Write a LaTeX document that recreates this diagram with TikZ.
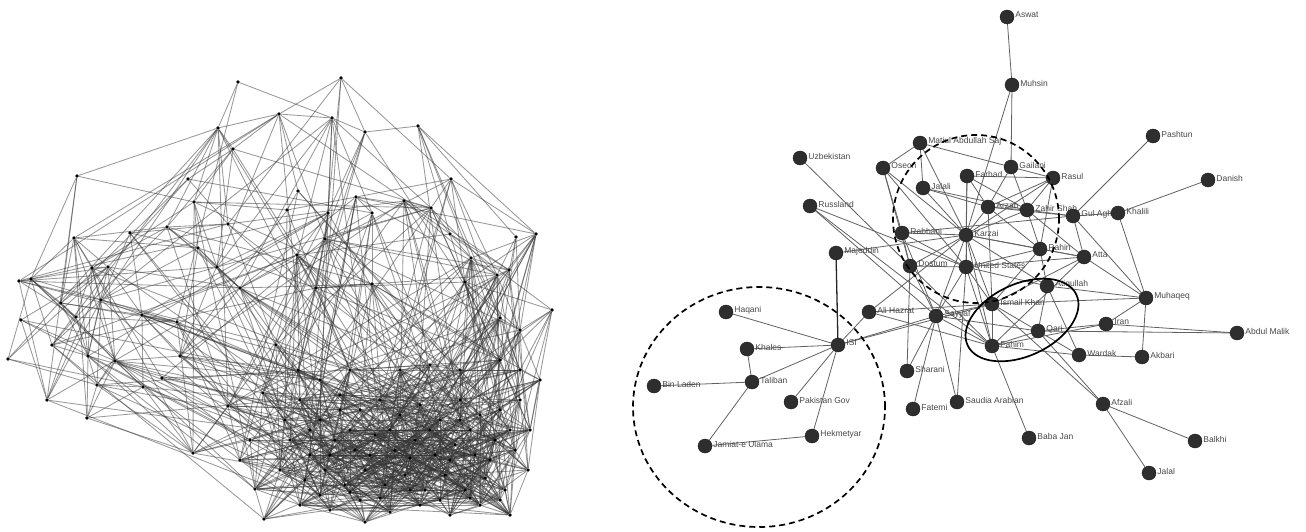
\documentclass[tikz,border=0pt]{standalone}
\usepackage{fontspec}
\setmainfont{Liberation Sans}
\pgfdeclarelayer{bg}
\pgfsetlayers{bg,main}
\tikzset{
  ldot/.style={circle,fill=black,inner sep=0pt,minimum size=3.8pt},
  ledge/.style={draw=black!80,draw opacity=0.5,line width=0.85pt},
  rdot/.style={circle,fill=black!82,draw=black!90,line width=0.4pt,inner sep=0pt,minimum size=14pt},
  redge/.style={draw=black!62,line width=0.8pt},
  lbl/.style={font=\fontsize{8.5}{9}\selectfont,text=black!72,inner sep=1pt,yshift=2pt},
  ringd/.style={draw=black,line width=1.7pt,dash pattern=on 6pt off 4pt},
  rings/.style={draw=black,line width=1.7pt}
}
\begin{document}
\begin{tikzpicture}[x=1pt,y=-1pt]
\useasboundingbox (0,0) rectangle (1306,532);
% ---------------- left network ----------------
\pgfmathsetseed{11}
\foreach \x/\y [count=\i] in {
238/82,341/78,279/114,218/128,233/149,332/118,365/132,418/126,77/176,188/179,
194/202,298/191,287/210,356/197,404/201,431/208,451/179,228/224,167/227,130/233,
74/238,198/248,297/255,328/213,372/213,450/234,516/237,536/234,325/239,471/258,
509/270,217/267,92/268,108/267,19/281,31/279,240/288,316/288,372/284,465/282,
497/275,61/303,21/320,76/317,101/300,142/315,177/322,52/345,8/359,88/356,
115/361,97/385,143/387,162/378,180/356,47/400,87/418,193/453,228/406,276/345,
298/370,263/393,255/489,264/519,552/310,520/330,500/318,
300/400,320/420,340/395,360/410,380/400,400/415,420/405,440/420,460/400,480/415,500/410,520/400,
290/440,310/455,335/440,355/450,375/435,395/450,415/440,435/455,455/445,475/455,495/440,515/450,530/430,
280/470,305/480,325/470,345/485,365/470,385/485,405/475,425/490,445/475,465/490,485/478,505/490,528/470,
300/505,330/510,360/500,390/512,420/505,450/515,480/505,510/515,365/522,
285/420,250/440,240/460,520/370,500/360,540/380,460/370,430/365,400/370,350/370,320/380,
310/430,330/455,350/430,370/455,390/430,410/458,430/430,450/460,470/430,490/460,510/430,
320/495,350/492,380/498,410/490,440/500,470/498,500/500,340/410,460/420}{
  \node[ldot] (l\i) at (\x,\y) {};
  \expandafter\xdef\csname lx\i\endcsname{\x}
  \expandafter\xdef\csname ly\i\endcsname{\y}
  \xdef\nL{\i}
}
\begin{pgfonlayer}{bg}
\foreach \i in {1,...,\nL}{
  \foreach \j in {\i,...,\nL}{
    \ifnum\j>\i\relax
      \pgfmathsetmacro\dd{veclen(\csname lx\i\endcsname-\csname lx\j\endcsname,\csname ly\i\endcsname-\csname ly\j\endcsname)}
      \pgfmathsetmacro\pp{rnd}
      \ifdim\dd pt<320pt
        \pgfmathsetmacro\thr{0.7*exp(-\dd/80)+0.022}
        \ifdim\pp pt<\thr pt
          \draw[ledge] (l\i) -- (l\j);
        \fi
      \fi
    \fi
  }
}
\end{pgfonlayer}
% ---------------- right network ----------------
\foreach \n/\x/\y/\t in {
asw/1007/17/Aswat, muh/1012/85/Muhsin, uzb/800/158/Uzbekistan, rus/810/206/Russland,
maj/836/253/Majeddin, ali/869/312/Ali Hazrat, isi/838/345/ISI, haq/726/312/Haqani,
kha/747/349/Khales, tal/752/382/Taliban, bin/654/386/Bin Laden, pak/791/402/Pakistan Gov,
hek/812/436/Hekmetyar, jam/705/446/Jamiat-e Ulama, mat/920/143/Matiul Abdullah Saj,
ose/883/168/Oseon, jal/923/188/Jalali, far/967/176/Farhad, gai/1011/167/Gailani,
ras/1053/178/Rasul, arz/988/207/Arzab, zah/1027/210/Zahir Shah, gul/1073/216/Gul Agha,
khl/1118/213/Khalili, rab/902/233/Rabbani, kar/966/235/Karzai, rah/1040/249/Rahin,
dos/910/266/Dostum, us/966/267/United States, att/1084/257/Atta, pas/1153/136/Pashtun,
dan/1208/180/Danish, muq/1146/298/Muhaqeq, ira/1106/324/Iran, abd/1237/333/Abdul Malik,
akb/1142/357/Akbari, war/1079/355/Wardak, afz/1103/404/Afzali, bal/1195/441/Balkhi,
jll/1149/473/Jalal, bab/1029/438/Baba Jan, sau/957/402/Saudia Arabian, fat/913/409/Fatemi,
sha/907/371/Sharani, say/936/316/Sayyaf, ism/992/304/Ismail Khan, fah/992/346/Fahim,
qar/1038/331/Qari, atq/1047/286/Atiqullah}{
  \node[rdot,label={[lbl]east:\t}] (\n) at (\x,\y) {};
}
\begin{pgfonlayer}{bg}
\draw[draw=black!85,line width=1.3pt] (maj) -- (isi);
\foreach \a/\b in {asw/muh, muh/kar, muh/gai,
uzb/dos, rus/say, rus/fah, rus/us, maj/kar,
isi/haq, isi/kha, isi/tal, isi/pak, isi/hek, isi/ali, isi/say, isi/ism,
kha/tal, tal/bin, tal/jam, jam/hek, ali/fah, ali/ism, ali/kar,
say/sha, say/fat, say/sau, say/dos, say/kar, say/us, say/ism, say/fah, say/qar, say/rab,
rab/ose, rab/kar, rab/dos, rab/gul, rab/us,
kar/jal, kar/far, kar/arz, kar/zah, kar/rah, kar/us, kar/ose, kar/mat, kar/dos, kar/fah, kar/ism, kar/atq, kar/ras, kar/att,
us/dos, us/rah, us/att, us/fah, us/ism, us/sau, us/atq,
mat/jal, mat/gai, mat/ose, ose/dos, ose/us, jal/arz, jal/zah,
far/arz, far/ras, far/zah, far/us, gai/arz, gai/ras, gai/zah,
ras/arz, ras/zah, ras/rah, arz/zah, arz/rah, arz/gul, arz/ism,
zah/gul, zah/rah, zah/att, gul/khl, gul/pas, gul/att, gul/muq,
khl/dan, khl/muq, rah/att, rah/atq, rah/ism, att/muq, att/ism, att/fah,
atq/muq, atq/war, atq/qar, ism/fah, ism/qar, ism/muq, ism/afz,
fah/qar, fah/bab, fah/war, fah/ira, qar/ira, qar/war, qar/afz, qar/abd,
ira/abd, ira/muq, muq/akb, war/akb, afz/bal, afz/jll, dos/fah, dos/sha}{
  \draw[redge] (\a) -- (\b);
}
\end{pgfonlayer}
% rings
\draw[ringd] (759,407) ellipse [x radius=126pt, y radius=120pt];
\draw[ringd] (976,219) ellipse [x radius=83pt, y radius=84pt];
\draw[rings,rotate around={25:(1022,320)}] (1022,320) ellipse [x radius=60pt, y radius=36pt];
\end{tikzpicture}
\end{document}
